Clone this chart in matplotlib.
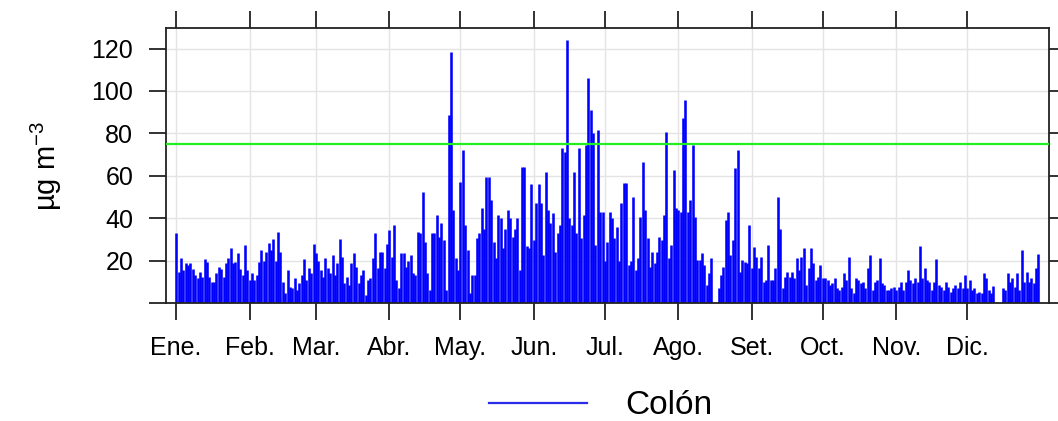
import numpy as np
import matplotlib
matplotlib.use("Agg")
import matplotlib.pyplot as plt
from matplotlib.lines import Line2D

nan = np.nan

# daily PM values at Colón, one list per month (µg m-3)
ene = [33, 14.6, 21, 15.5, 19, 18, 18.7, 16, 13, 11.6, 14.8, 12.4, 20.6, 19.5, 12.4, 10,
       10, 14, 17, 16, 12.4, 18.7, 21, 25.8, 18.7, 19.5, 23.4, 16, 13, 27.4, 15.5]
feb = [10.8, 14, 10.8, 13, 19.5, 25, 20, 24, 28.5, 25, 30, 20, 33.6, 24, 10, 4.6, 15.5,
       7.7, 7, 11.6, 6, 9.3, 13, 20.6, 10.8, 16.4, 14, 27.8]
mar = [23.4, 20, 15.5, 12.4, 21, 16.4, 14, 22.6, 13, 18.7, 30, 21.8, 9.3, 12.4, 8.5, 18.7,
       23.4, 17, 9.3, 13, 15.5, 3.8, 11, 11.6, 21, 33, 16.4, 24, 24, 16.4, 28]
abr = [34.4, 21.9, 36.8, 11, 7, 23.4, 23.4, 17, 20, 22.6, 14, 13, 33.6, 33, 52.5, 29, 14,
       6, 33, 33, 41.5, 31, 37.6, 29.7, 6, 88.7, 118.6, 43.9, 21, 15.6]
may = [57, 72, 36.8, 25, 4.6, 13, 13, 30.5, 33, 44.7, 35, 59.6, 59.6, 48.6, 29, 21, 41.5,
       40, 25.8, 35, 43.9, 40, 31, 35, 40, 15.6, 64, 64, 27, 25.8, 56]
jun = [29.7, 47, 56, 47, 22.6, 62, 43.9, 37.6, 42.3, 24, 33, 36.8, 73, 71, 124, 40, 36.8,
       62, 32.9, 73, 30.5, 41.5, 74.5, 106, 91, 80, 27.4, 81.6, 43, 43]
jul = [20, 29, 43, 40, 30.5, 36, 20, 47, 56.4, 56.4, 18, 20, 50, 15.6, 21, 40.7, 66.7,
       43.9, 30.5, 17, 24, 18.7, 24, 31, 29.7, 41.5, 80.8, 21, 27.4, 62.7, 44.7]
ago = [43.9, 43.1, 87.1, 95.8, 43.1, 48.6, 74.5, 40.7, 20.3, 20.3, 23.4, 17.9, 8.5, 14,
       21, nan, nan, 6.9, 13.2, 17.1, 39, 43, 22.6, 29.7, 63.5, 72.2, 14.8, 20.3, 19.5,
       18.7, 36.8]
sep = [16.4, 26.6, 21.9, 16.4, 21.9, 10, 10.8, 27.4, 10.8, 10.8, 16.4, 50, 35, 7, 12.4,
       14.8, 12.4, 14.8, 11.6, 21, 15.6, 21.9, 25.8, 8.5, 16.4, 25.8, 18.7, 10.8, 12.4, 18]
octu = [11.6, 11.6, 10.8, 8.5, 9.3, 11.6, 7, 6, 7.7, 14, 10.8, 21.9, 7, 4.6, 11.6, 10.8,
        9.3, 10, 7, 16.4, 22.6, 6, 10, 10.8, 21, 9.3, 8.5, 6, 6, 7, 7.7]
nov = [6, 7.7, 10, 6, 10, 15.6, 10.8, 9.3, 11.6, 10, 27, 11.6, 16.4, 10.8, 10, 6, 10,
       20.6, 8.5, 7.7, 6, 10, 7.7, 5.3, 7, 8.5, 7, 10, 7, 13]
dic = [7, 11, 6, 7, 4.6, 5, 4.6, 14, 11.6, 6, 4.6, 8, nan, nan, nan, 7, 6, 14, 10, 11.6,
       7.7, 14, 6, 25, 10, 14.8, 10, 11.6, 9.3, 16.4, 23]

month_labels = ["Ene.", "Feb.", "Mar.", "Abr.", "May.", "Jun.",
                "Jul.", "Ago.", "Set.", "Oct.", "Nov.", "Dic."]
y_ticks = [0, 20, 40, 60, 80, 100, 120]
y_tick_labels = ["", "20", "40", "60", "80", "100", "120"]
limit_value = 75
station = "Colón"

plt.rcParams["font.family"] = ["Liberation Sans", "DejaVu Sans"]
plt.rcParams["mathtext.fontset"] = "custom"
plt.rcParams["mathtext.rm"] = "Liberation Sans"

months = [ene, feb, mar, abr, may, jun, jul, ago, sep, octu, nov, dic]
values = np.concatenate([np.asarray(m, dtype=float) for m in months])
days = np.arange(len(values))
month_starts = np.cumsum([0] + [len(m) for m in months[:-1]])

fig = plt.figure(figsize=(10.58, 4.21), dpi=100)
ax = fig.add_axes([0.1569, 0.2803, 0.8346, 0.6532])

ax.set_xticks(month_starts)
ax.set_yticks(y_ticks)
ax.grid(True, color="#e4e4e4", linewidth=1.0)
ax.set_axisbelow(True)

ok = np.isfinite(values)
ax.vlines(days[ok], 0, values[ok], color="#0000ff", linewidth=1.85, zorder=2)
ax.axhline(limit_value, color="#22ee22", linewidth=1.6, zorder=3)

ax.set_xlim(-4.3, 368.5)
ax.set_ylim(0, 129.7)
ax.set_xticklabels(month_labels)
ax.set_yticklabels(y_tick_labels)

for spine in ax.spines.values():
    spine.set_linewidth(1.3)
    spine.set_color("#222222")
ax.tick_params(axis="both", direction="out", length=12.5, width=1.3, color="#222222",
               labelsize=18, top=True, right=True, labeltop=False, labelright=False)
ax.tick_params(axis="x", pad=11)
ax.tick_params(axis="y", pad=11)

ax.set_ylabel(r"µg m$^{\mathrm{-3}}$", fontsize=21, labelpad=20)

handle = Line2D([0], [0], color="#2b2bea", linewidth=1.6, label=station)
fig.legend(handles=[handle], loc="center", bbox_to_anchor=(0.5676, 0.036),
           frameon=False, fontsize=24, handlelength=2.95, handletextpad=1.15,
           borderpad=0)

fig.savefig("out.png", dpi=100, facecolor="white")
